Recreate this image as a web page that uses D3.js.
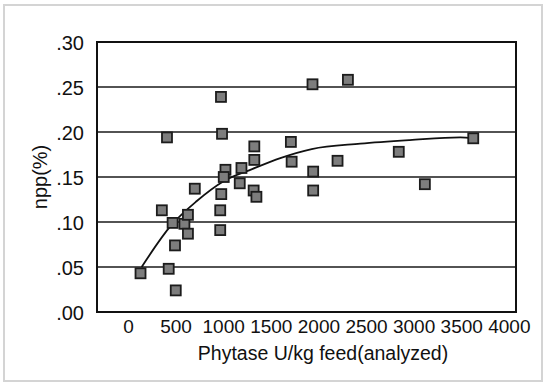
<!DOCTYPE html>
<html>
<head>
<meta charset="utf-8">
<script src="https://cdn.jsdelivr.net/npm/d3@7"></script>
<style>
  body { margin: 0; background: #fff; }
  svg { display: block; }
  text { font-family: "Liberation Sans", Arial, sans-serif; fill: #111; }
</style>
</head>
<body>
<div id="chart"></div>
<script>
// phytase dose (U/kg feed, analyzed) and npp equivalent (%)
const phytase = [132, 428, 502, 494, 469, 356, 410, 593, 630, 630, 702,
  977, 988, 1024, 1006, 980, 969, 969, 1192, 1174, 1327, 1327, 1320, 1349,
  1711, 1719, 1938, 2310, 1945, 1945, 2201, 2844, 3118, 3626];
const npp = [0.043, 0.048, 0.024, 0.074, 0.099, 0.113, 0.194, 0.098, 0.108, 0.087, 0.137,
  0.239, 0.198, 0.158, 0.150, 0.131, 0.113, 0.091, 0.160, 0.143, 0.184, 0.169, 0.135, 0.128,
  0.189, 0.167, 0.253, 0.258, 0.156, 0.135, 0.168, 0.178, 0.142, 0.193];

// fitted response curve
const fitX = [144, 460, 720, 1000, 1310, 1600, 1930, 2440, 2960, 3490, 3625];
const fitY = [0.050, 0.097, 0.123, 0.145, 0.159, 0.171, 0.181, 0.187, 0.191, 0.194, 0.193];

const xTicks = [0, 500, 1000, 1500, 2000, 2500, 3000, 3500, 4000];
const yTicks = [0, 0.05, 0.10, 0.15, 0.20, 0.25, 0.30];

const W = 546, H = 386;
const plot = { left: 97, right: 516, top: 42, bottom: 312 };

const svg = d3.select('#chart').append('svg')
  .attr('width', W)
  .attr('height', H);

// light outer border of the figure
svg.append('rect')
  .attr('x', 4).attr('y', 5)
  .attr('width', 538).attr('height', 376)
  .attr('fill', 'none')
  .attr('stroke', '#d4d4d4')
  .attr('stroke-width', 2);

const x = d3.scaleLinear().domain([-325, 4075]).range([plot.left, plot.right]);
const y = d3.scaleLinear().domain([0, 0.30]).range([plot.bottom, plot.top]);

// horizontal grid lines
svg.append('g').selectAll('line')
  .data(yTicks.slice(1, -1))
  .enter()
  .append('line')
  .attr('x1', plot.left).attr('x2', plot.right)
  .attr('y1', d => y(d)).attr('y2', d => y(d))
  .attr('stroke', '#1a1a1a')
  .attr('stroke-width', 1.6);

// plot frame
svg.append('rect')
  .attr('x', plot.left).attr('y', plot.top)
  .attr('width', plot.right - plot.left).attr('height', plot.bottom - plot.top)
  .attr('fill', 'none')
  .attr('stroke', '#111')
  .attr('stroke-width', 2);

const yAxis = svg.append('g')
  .attr('transform', 'translate(' + plot.left + ',0)')
  .call(d3.axisLeft(y).tickValues(yTicks).tickSize(0).tickPadding(13)
    .tickFormat(d => d3.format('.2f')(d).replace(/^0/, '')));
yAxis.select('.domain').remove();
yAxis.selectAll('text').attr('font-size', 20).attr('dy', '0.36em');
yAxis.attr('font-family', null);

const xAxis = svg.append('g')
  .attr('transform', 'translate(0,' + plot.bottom + ')')
  .call(d3.axisBottom(x).tickValues(xTicks).tickSize(0).tickPadding(8)
    .tickFormat(d3.format('d')));
xAxis.select('.domain').remove();
xAxis.selectAll('text').attr('font-size', 19);
xAxis.attr('font-family', null);

// axis titles
svg.append('text')
  .attr('x', 323).attr('y', 360)
  .attr('text-anchor', 'middle')
  .attr('font-size', 19.5)
  .text('Phytase U/kg feed(analyzed)');

svg.append('text')
  .attr('transform', 'translate(47,177) rotate(-90)')
  .attr('text-anchor', 'middle')
  .attr('font-size', 20)
  .text('npp(%)');

// fitted line
svg.append('path')
  .datum(fitX.map((d, i) => [d, fitY[i]]))
  .attr('fill', 'none')
  .attr('stroke', '#111')
  .attr('stroke-width', 1.8)
  .attr('d', d3.line()
    .x(d => x(d[0]))
    .y(d => y(d[1]))
    .curve(d3.curveMonotoneX));

// observations
const s = 10;
svg.append('g').selectAll('rect')
  .data(phytase.map((d, i) => [d, npp[i]]))
  .enter()
  .append('rect')
  .attr('x', d => x(d[0]) - s / 2)
  .attr('y', d => y(d[1]) - s / 2)
  .attr('width', s).attr('height', s)
  .attr('fill', '#7d7d7d')
  .attr('stroke', '#1c1c1c')
  .attr('stroke-width', 1.8);
</script>
</body>
</html>
